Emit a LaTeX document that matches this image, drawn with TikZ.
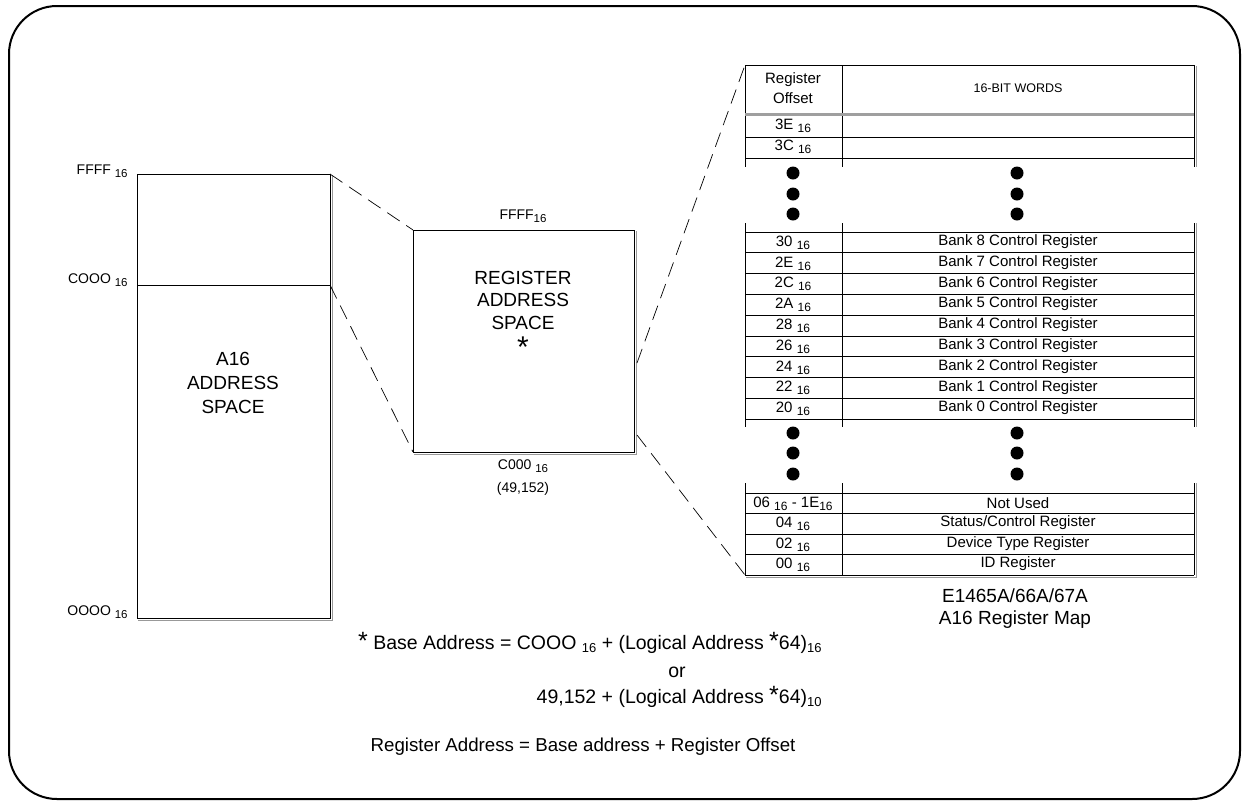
\documentclass[tikz,border=0pt]{standalone}
\usepackage{fontspec}
\setmainfont{Liberation Sans}
\usetikzlibrary{calc}

\newcommand{\hexsub}[2][11.5]{\raisebox{-3pt}{\fontsize{#1}{#1}\selectfont #2}}
\newcommand{\bigast}{{\fontsize{25}{25}\selectfont *}}

\tikzset{
    memlbl/.style={font=\fontsize{14}{16}\selectfont, inner sep=0pt},
    boxlbl/.style={font=\fontsize{19}{24}\selectfont, align=center, inner sep=0pt},
    rowlbl/.style={font=\fontsize{15}{17}\selectfont, inner sep=0pt},
    formula/.style={font=\fontsize{19.5}{24}\selectfont, inner sep=0pt},
    shadow/.style={draw=gray!80, line width=1.2pt},
    zoomline/.style={dash pattern=on 15pt off 8pt, line width=0.7pt},
}

\begin{document}
\begin{tikzpicture}[x=1pt, y=-1pt, line width=0.8pt]
    \useasboundingbox (0,0) rectangle (1242,801);
    \draw[line width=2pt, rounded corners=48pt] (9,6) rectangle (1240,799);

    % A16 address space
    \coordinate (A) at (137,174);
    \coordinate (B) at (330,174);
    \coordinate (C) at (330,285);
    \coordinate (D) at (330,618);
    \coordinate (E) at (137,618);
    \coordinate (F) at (137,285);
    \draw (A) -- (B) -- (D) -- (E) -- cycle;
    \draw (F) -- (C);
    \draw[shadow] ($(B)+(2.5,1)$) -- ($(D)+(2.5,2.5)$) -- ($(E)+(1,2.5)$);

    \node[memlbl, anchor=east] (ffff) at (128,171) {FFFF \hexsub{16}};
    \node[memlbl, anchor=east] (cooo) at (128,280) {COOO \hexsub{16}};
    \node[memlbl, anchor=east] (oooo) at (128,612) {OOOO \hexsub{16}};
    \node[boxlbl] (a16) at (233,383) {A16\\ADDRESS\\SPACE};

    % register address space
    \coordinate (G) at (413,230);
    \coordinate (H) at (634,230);
    \coordinate (I) at (634,452);
    \coordinate (J) at (413,452);
    \draw (G) -- (H) -- (I) -- (J) -- cycle;
    \draw[shadow] ($(H)+(2.5,1)$) -- ($(I)+(2.5,2.5)$) -- ($(J)+(1,2.5)$);

    \node[memlbl] (rffff) at (523,216) {FFFF\hexsub{16}};
    \node[boxlbl, font=\fontsize{19}{22.5}\selectfont] (reg) at (523,300) {REGISTER\\ADDRESS\\SPACE};
    \node[boxlbl, font=\fontsize{30}{30}\selectfont] (star) at (523,347) {*};
    \node[memlbl] (rc000) at (523,466) {C000 \hexsub{16}};
    \node[memlbl] (rdec) at (523,489) {(49,152)};

    % register map table
    \coordinate (K) at (745,65);
    \coordinate (L) at (1194,65);
    \coordinate (M) at (1194,575);
    \coordinate (N) at (745,575);
    \coordinate (R1) at (637,363);
    \coordinate (R2) at (637,435);

    \draw[zoomline] (B) -- (G);
    \draw[zoomline] (C) -- (J);
    \draw[zoomline] (R1) -- (K);
    \draw[zoomline] (R2) -- (N);

    \draw (K) -- (L);
    \foreach \x in {745,842,1194} {
        \draw (\x,65) -- (\x,167);
        \draw (\x,223) -- (\x,427);
        \draw (\x,483) -- (\x,575);
    }
    \draw[shadow] (1196.5,66) -- (1196.5,167);
    \draw[shadow] (1196.5,223) -- (1196.5,427);
    \draw[shadow] (1196.5,483) -- (1196.5,577.5) -- (746,577.5);
    \draw[gray!75, line width=3pt] (745,114) -- (1194,114);
    \draw (N) -- (M);
    \foreach \y in {137,158,232,252.8,273.6,294.3,315.1,335.9,356.7,377.4,398.2,419,493,513.5,534,554.5}
        \draw (745,\y) -- (1194,\y);

    \node[rowlbl, font=\fontsize{15}{20}\selectfont, align=center] (hoff) at (793,88) {Register\\Offset};
    \node[rowlbl, font=\fontsize{12.5}{14}\selectfont] (hwords) at (1018,88) {16-BIT WORDS};

    \node[rowlbl] (o3e) at (793,126) {3E \hexsub[12]{16}};
    \node[rowlbl] (o3c) at (793,147) {3C \hexsub[12]{16}};

    \foreach \y in {173,194,214,433,453,474} {
        \fill (793,\y) circle (6.5pt);
        \fill (1017,\y) circle (6.5pt);
    }

    \node[rowlbl] (o30) at (793,243) {30 \hexsub[12]{16}};
    \node[rowlbl] (o2e) at (793,264) {2E \hexsub[12]{16}};
    \node[rowlbl] (o2c) at (793,284) {2C \hexsub[12]{16}};
    \node[rowlbl] (o2a) at (793,305) {2A \hexsub[12]{16}};
    \node[rowlbl] (o28) at (793,326) {28 \hexsub[12]{16}};
    \node[rowlbl] (o26) at (793,347) {26 \hexsub[12]{16}};
    \node[rowlbl] (o24) at (793,368) {24 \hexsub[12]{16}};
    \node[rowlbl] (o22) at (793,388) {22 \hexsub[12]{16}};
    \node[rowlbl] (o20) at (793,409) {20 \hexsub[12]{16}};
    \node[rowlbl] (w30) at (1018,242) {Bank 8 Control Register};
    \node[rowlbl] (w2e) at (1018,263) {Bank 7 Control Register};
    \node[rowlbl] (w2c) at (1018,284) {Bank 6 Control Register};
    \node[rowlbl] (w2a) at (1018,304) {Bank 5 Control Register};
    \node[rowlbl] (w28) at (1018,325) {Bank 4 Control Register};
    \node[rowlbl] (w26) at (1018,346) {Bank 3 Control Register};
    \node[rowlbl] (w24) at (1018,367) {Bank 2 Control Register};
    \node[rowlbl] (w22) at (1018,388) {Bank 1 Control Register};
    \node[rowlbl] (w20) at (1018,408) {Bank 0 Control Register};

    \node[rowlbl] (o06) at (793,504) {06 \hexsub[12]{16} - 1E\hexsub[12]{16}};
    \node[rowlbl] (o04) at (793,524) {04 \hexsub[12]{16}};
    \node[rowlbl] (o02) at (793,545) {02 \hexsub[12]{16}};
    \node[rowlbl] (o00) at (793,565) {00 \hexsub[12]{16}};
    \node[rowlbl] (w06) at (1018,503) {Not Used};
    \node[rowlbl] (w04) at (1018,523) {Status/Control Register};
    \node[rowlbl] (w02) at (1018,544) {Device Type Register};
    \node[rowlbl] (w00) at (1018,564) {ID Register};

    \node[boxlbl, font=\fontsize{19}{22}\selectfont] (mapname) at (1015,609) {E1465A/66A/67A\\A16 Register Map};

    % base address formula
    \node[formula, anchor=base east] (base1) at (822,649)
        {\bigast\ Base Address = COOO \hexsub[13]{16} + (Logical Address \bigast64)\hexsub[13]{16}};
    \node[formula, anchor=base] (baseor) at (677,677) {or};
    \node[formula, anchor=base east] (base2) at (822,703)
        {49,152 + (Logical Address \bigast64)\hexsub[13]{10}};
    \node[boxlbl, font=\fontsize{18.7}{22}\selectfont, anchor=base] (regaddr) at (583,751) {Register Address = Base address + Register Offset};
\end{tikzpicture}
\end{document}
